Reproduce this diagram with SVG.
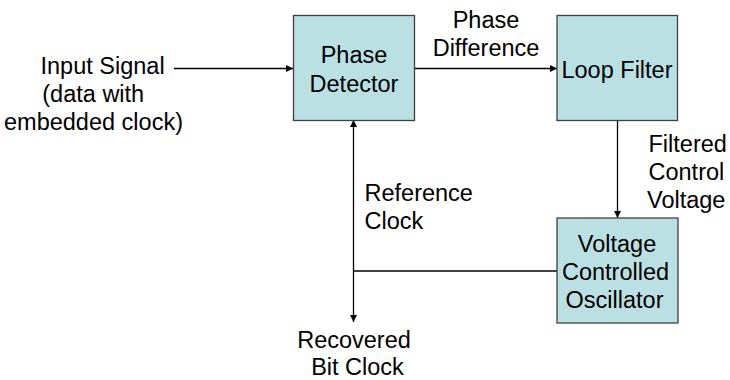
<svg xmlns="http://www.w3.org/2000/svg" width="730" height="380" viewBox="0 0 730 380">
<defs>
<style>
text{font-family:"Liberation Sans",Arial,sans-serif;font-size:23.5px;fill:#000}
.box{fill:#bbe0e3;stroke:#3f3f3f;stroke-width:1.3}
.ln{stroke:#000;stroke-width:1.3;fill:none}
.m{text-anchor:middle}
</style>
<marker id="ah" viewBox="0 0 10 10" refX="10" refY="5" markerWidth="7" markerHeight="7" markerUnits="userSpaceOnUse" orient="auto-start-reverse">
<path d="M0,0 L10,5 L0,10 z" fill="#000"/>
</marker>
</defs>
<g id="connectors">
<line class="ln" x1="174" y1="68.5" x2="293" y2="68.5" marker-end="url(#ah)"/>
<line class="ln" x1="414" y1="68.5" x2="557" y2="68.5" marker-end="url(#ah)"/>
<line class="ln" x1="617.5" y1="120" x2="617.5" y2="218" marker-end="url(#ah)"/>
<line class="ln" x1="353.5" y1="120" x2="353.5" y2="322" marker-start="url(#ah)" marker-end="url(#ah)"/>
<line class="ln" x1="353.5" y1="271" x2="557" y2="271"/>
</g>
<g id="input-label">
<text x="40.5" y="73.5">Input Signal</text>
<text x="42.3" y="101.8">(data with</text>
<text x="4" y="130">embedded clock)</text>
</g>
<g id="phase-detector">
<rect class="box" x="293.5" y="15.5" width="121" height="105"/>
<text class="m" x="354" y="62.7">Phase</text>
<text class="m" x="354" y="91.5">Detector</text>
</g>
<g id="phase-diff-label">
<text class="m" x="486" y="27.5">Phase</text>
<text class="m" x="486" y="56">Difference</text>
</g>
<g id="loop-filter">
<rect class="box" x="557" y="15.5" width="120.5" height="105"/>
<text class="m" x="617" y="77.5">Loop Filter</text>
</g>
<g id="filtered-label">
<text x="648.5" y="152">Filtered</text>
<text x="648.5" y="180">Control</text>
<text x="647" y="207.5">Voltage</text>
</g>
<g id="vco">
<rect class="box" x="557" y="218" width="121" height="105"/>
<text class="m" x="617" y="251.5">Voltage</text>
<text class="m" x="615.5" y="280">Controlled</text>
<text class="m" x="614.5" y="307.5">Oscillator</text>
</g>
<g id="reference-label">
<text x="364.5" y="200.5">Reference</text>
<text x="364.5" y="229">Clock</text>
</g>
<g id="recovered-label">
<text class="m" x="354" y="347.5">Recovered</text>
<text class="m" x="357.5" y="374.5">Bit Clock</text>
</g>
</svg>
